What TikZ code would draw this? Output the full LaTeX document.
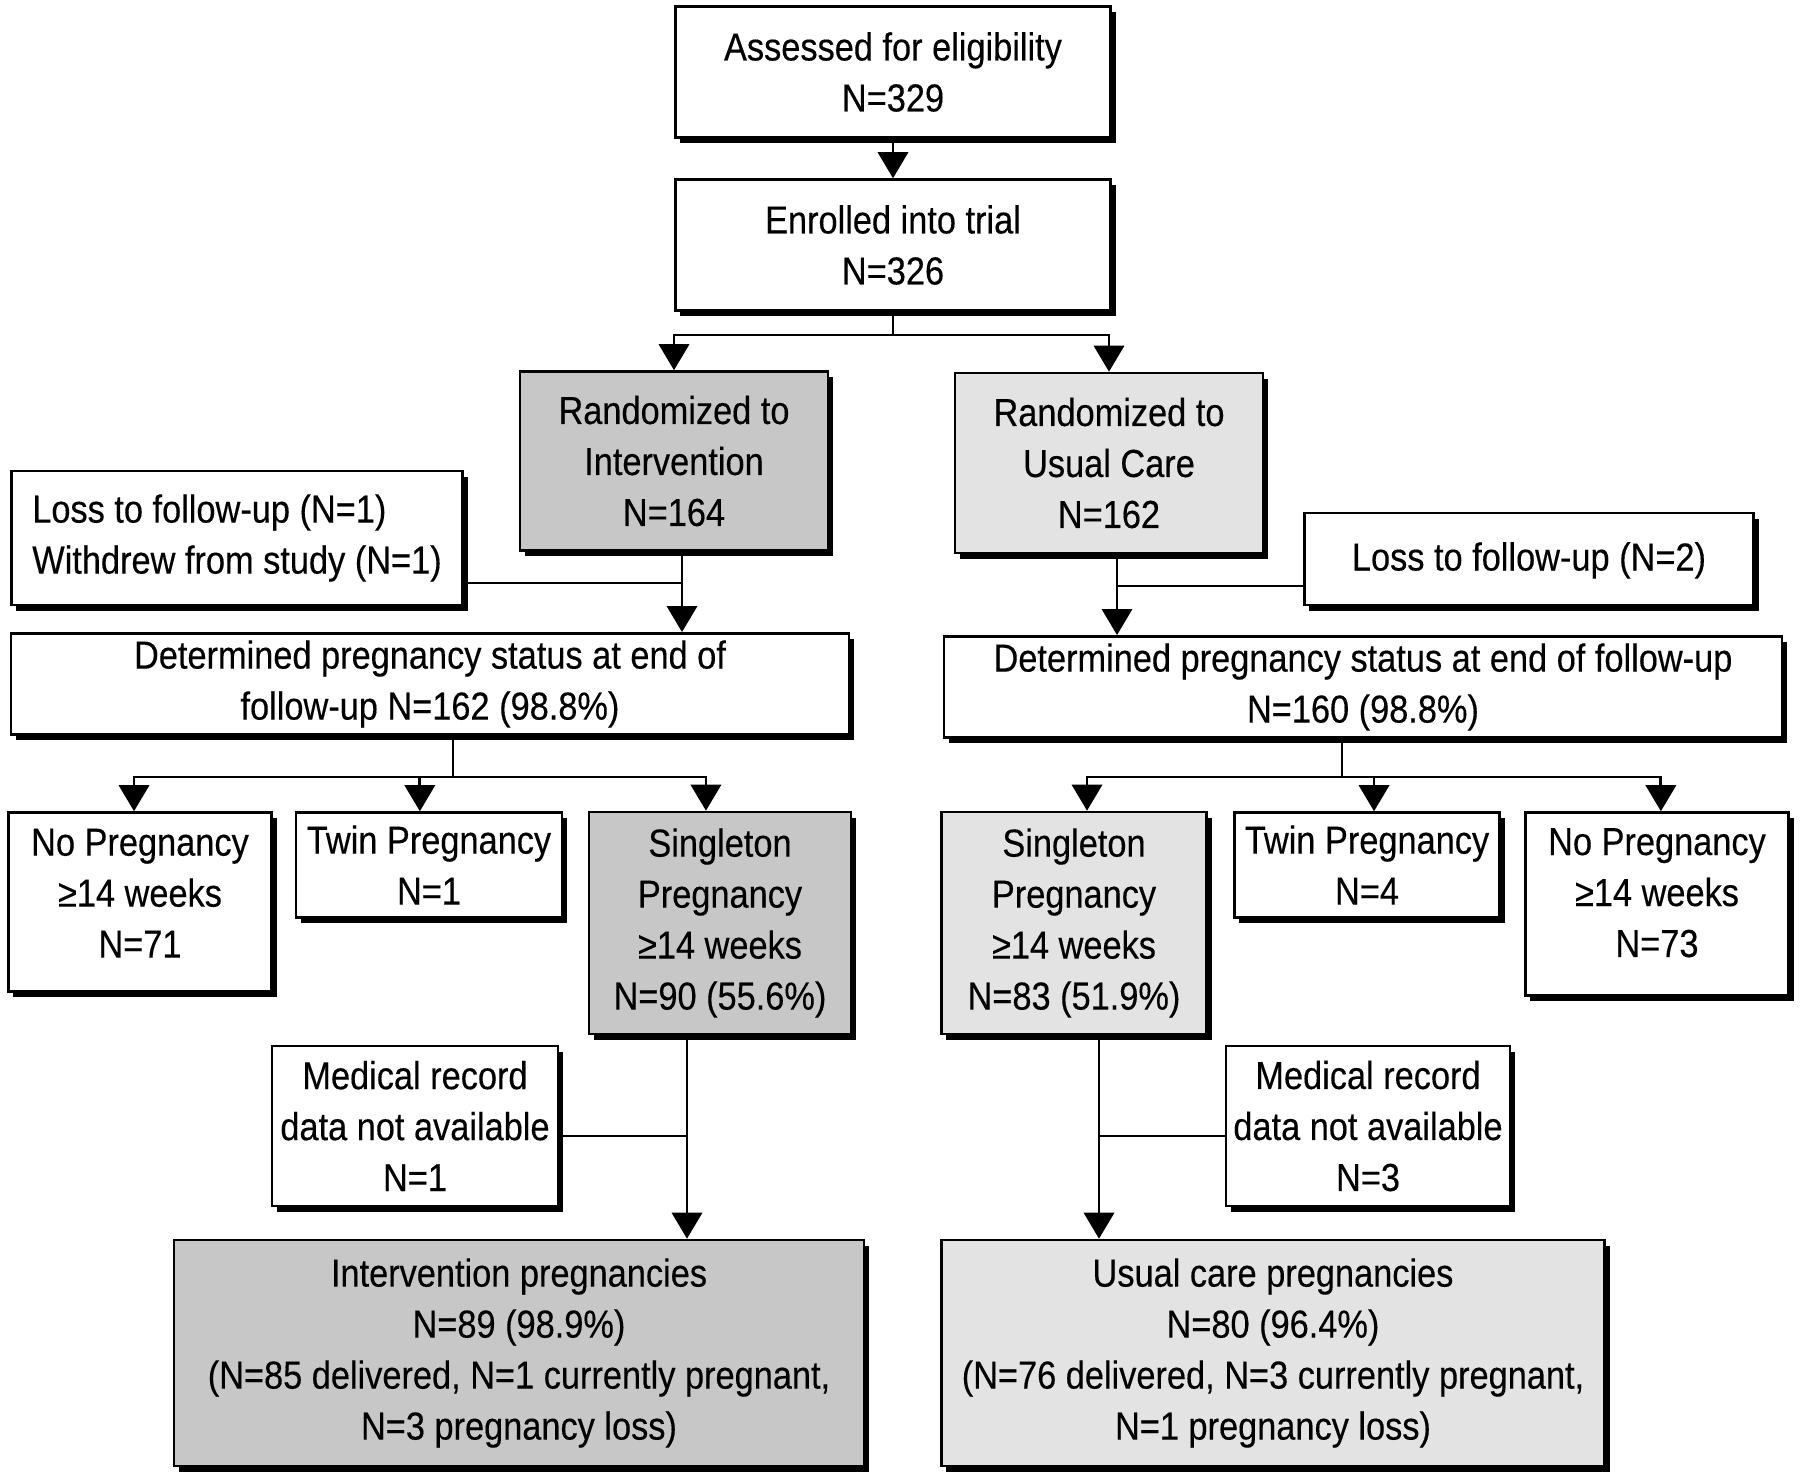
\documentclass[tikz,border=0pt]{standalone}
\usepackage{fontspec}
\setmainfont[FakeStretch=0.88,FakeBold=0.3]{Liberation Sans}
\usetikzlibrary{arrows.meta,shadows}

\begin{document}
\begin{tikzpicture}[x=0.01cm,y=-0.01cm]
	\tikzstyle{box} = [draw, line width=0.7pt, align=center, inner sep=2pt, fill=white, font=\fontsize{11.1}{14.5}\selectfont, drop shadow={shadow xshift=1.4pt, shadow yshift=-1.6pt, opacity=1, fill=black}]
	\tikzstyle{intv} = [box, fill=black!22]
	\tikzstyle{usual} = [box, fill=black!11]
	\tikzstyle{conn} = [line width=0.8pt]
	\tikzstyle{arr} = [conn, -{Triangle[length=7.4pt,width=8.6pt]}]
	\useasboundingbox (0,0) rectangle (1800,1482);
	% top of the trial
	\node[box, minimum width=4.35cm, minimum height=1.31cm] (assess) at (893,72) {Assessed for eligibility\\N=329};
	\node[box, minimum width=4.35cm, minimum height=1.31cm] (enrol) at (893,245) {Enrolled into trial\\N=326};
	\node[intv, minimum width=3.08cm, minimum height=1.79cm] (randI) at (674,461) {Randomized to\\Intervention\\N=164};
	\node[usual, minimum width=3.08cm, minimum height=1.80cm] (randU) at (1109,463) {Randomized to\\Usual Care\\N=162};
	% losses
	\node[box, align=left, minimum width=4.51cm, minimum height=1.34cm] (lossI) at (237,538) {Loss to follow-up (N=1)\\Withdrew from study (N=1)};
	\node[box, minimum width=4.49cm, minimum height=0.92cm, text depth=1.5pt] (lossU) at (1529,559) {Loss to follow-up (N=2)};
	\node[box, minimum width=8.38cm, minimum height=1.00cm] (detI) at (430,684) {Determined pregnancy status at end of\\follow-up N=162 (98.8\%)};
	\node[box, minimum width=8.38cm, minimum height=0.99cm] (detU) at (1363,687) {Determined pregnancy status at end of follow-up\\N=160 (98.8\%)};
	% pregnancy outcomes
	\node[box, minimum width=2.63cm, minimum height=1.79cm, text depth=5pt] (noI) at (140,902) {No Pregnancy\\≥14 weeks\\N=71};
	\node[box, minimum width=2.66cm, minimum height=1.05cm] (twinI) at (429,865) {Twin Pregnancy\\N=1};
	\node[intv, minimum width=2.62cm, minimum height=2.22cm] (singI) at (720,923) {Singleton\\Pregnancy\\≥14 weeks\\N=90 (55.6\%)};
	\node[usual, minimum width=2.65cm, minimum height=2.22cm] (singU) at (1074,923) {Singleton\\Pregnancy\\≥14 weeks\\N=83 (51.9\%)};
	\node[box, minimum width=2.65cm, minimum height=1.05cm] (twinU) at (1367,865) {Twin Pregnancy\\N=4};
	\node[box, minimum width=2.63cm, minimum height=1.83cm, text depth=6.5pt] (noU) at (1657,904) {No Pregnancy\\≥14 weeks\\N=73};
	\node[box, minimum width=2.86cm, minimum height=1.60cm] (medI) at (415,1126) {Medical record\\data not available\\N=1};
	\node[box, minimum width=2.84cm, minimum height=1.60cm] (medU) at (1368,1126) {Medical record\\data not available\\N=3};
	\node[intv, minimum width=6.90cm, minimum height=2.26cm] (pregI) at (519,1353) {Intervention pregnancies\\N=89 (98.9\%)\\(N=85 delivered, N=1 currently pregnant,\\N=3 pregnancy loss)};
	\node[usual, minimum width=6.63cm, minimum height=2.26cm] (pregU) at (1273,1353) {Usual care pregnancies\\N=80 (96.4\%)\\(N=76 delivered, N=3 currently pregnant,\\N=1 pregnancy loss)};
	% connectors
	\draw[arr] (assess) -- (enrol);
	\coordinate (split) at (893,335);
	\draw[conn] (enrol) -- (split);
	\draw[arr] (split) -| (randI);
	\draw[arr] (split) -| (randU);
	\coordinate (jI) at (682,583);
	\draw[arr] (randI.south -| jI) -- (detI.north -| jI);
	\draw[conn] (lossI.east |- jI) -- (jI);
	\coordinate (jU) at (1117,586);
	\draw[arr] (randU.south -| jU) -- (detU.north -| jU);
	\draw[conn] (jU) -- (lossU.west |- jU);
	\coordinate (sI) at (453,777);
	\draw[conn] (detI.south -| sI) -- (sI);
	\draw[arr] (sI) -| ([xshift=-1.7pt]noI.north);
	\draw[arr] (sI) -| ([xshift=-2.6pt]twinI.north);
	\draw[arr] (sI) -| ([xshift=-4pt]singI.north);
	\coordinate (sU) at (1342,777);
	\draw[conn] (detU.south -| sU) -- (sU);
	\draw[arr] (sU) -| ([xshift=3.7pt]singU.north);
	\draw[arr] (sU) -| ([xshift=2pt]twinU.north);
	\draw[arr] (sU) -| ([xshift=1.1pt]noU.north);
	\coordinate (mI) at (687,1136);
	\draw[arr] (singI.south -| mI) -- (pregI.north -| mI);
	\draw[conn] (medI.east |- mI) -- (mI);
	\coordinate (mU) at (1099,1136);
	\draw[arr] (singU.south -| mU) -- (pregU.north -| mU);
	\draw[conn] (mU) -- (medU.west |- mU);
\end{tikzpicture}
\end{document}
